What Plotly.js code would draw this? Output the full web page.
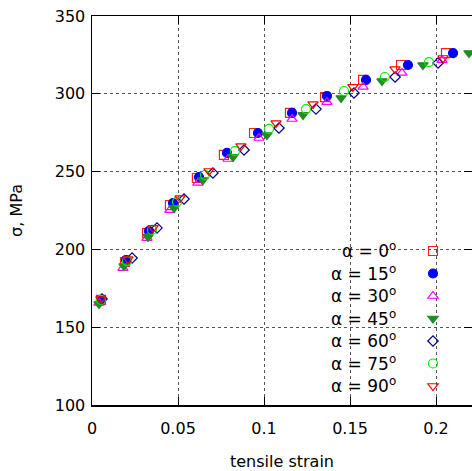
<!DOCTYPE html>
<html>
<head>
<meta charset="utf-8">
<script src="https://cdn.plot.ly/plotly-3.0.1.min.js"></script>
<style>html,body{margin:0;padding:0;background:#fff;}#chart{width:472px;height:471px;}</style>
</head>
<body>
<div id="chart"></div>
<script>
// Series names (angle α)
const seriesLabels = ["α = 0<sup>o</sup>", "α = 15<sup>o</sup>", "α = 30<sup>o</sup>", "α = 45<sup>o</sup>", "α = 60<sup>o</sup>", "α = 75<sup>o</sup>", "α = 90<sup>o</sup>"];

// tensile strain / stress (MPa) per series
const strain0  = [0.0052,0.0192,0.0320,0.0453,0.0610,0.0767,0.0942,0.1151,0.1355,0.1576,0.1797,0.2058];
const stress0  = [167.5,191.9,210.5,228.5,245.9,260.7,274.8,287.7,297.9,308.9,318.5,326.2];
const strain15 = [0.0052,0.0198,0.0331,0.0471,0.0622,0.0785,0.0965,0.1163,0.1366,0.1593,0.1837,0.2099];
const stress15 = [167.5,193.2,211.8,229.8,246.5,262.0,274.8,287.7,298.6,308.9,318.5,326.2];
const strain30 = [0.0041,0.0180,0.0320,0.0453,0.0616,0.0791,0.0971,0.1163,0.1366,0.1576,0.1802,0.2035];
const stress30 = [165.6,188.0,207.3,225.3,242.7,258.1,271.6,283.8,294.7,304.4,313.4,321.7];
const strain45 = [0.0041,0.0186,0.0326,0.0477,0.0645,0.0820,0.1017,0.1227,0.1448,0.1686,0.1924,0.2192];
const stress45 = [164.9,189.3,208.0,226.6,244.6,259.4,273.5,286.4,297.3,308.2,318.5,326.2];
const strain60 = [0.0058,0.0233,0.0378,0.0535,0.0703,0.0884,0.1087,0.1302,0.1523,0.1762,0.2012];
const stress60 = [168.1,194.5,213.8,232.4,249.1,263.9,278.0,290.2,300.5,310.8,319.8];
const strain75 = [0.0052,0.0203,0.0349,0.0494,0.0657,0.0831,0.1029,0.1244,0.1465,0.1703,0.1959];
const stress75 = [167.5,192.5,212.5,230.5,247.8,263.2,277.4,290.2,301.8,310.8,320.4];
const strain90 = [0.0052,0.0209,0.0355,0.0512,0.0680,0.0866,0.1070,0.1285,0.1517,0.1762,0.2041];
const stress90 = [168.1,193.8,213.8,233.0,250.4,266.4,281.2,293.4,304.4,315.9,323.0];

const xTickVals = [0, 0.05, 0.1, 0.15, 0.2];
const xTickText = ["0", "0.05", "0.1", "0.15", "0.2"];
const yTickVals = [100, 150, 200, 250, 300, 350];

const xs = [strain0, strain15, strain30, strain45, strain60, strain75, strain90];
const ys = [stress0, stress15, stress30, stress45, stress60, stress75, stress90];
const styles = [
  {symbol: "square-open", color: "#ff2020", size: 9},
  {symbol: "circle", color: "#0000ff", size: 9},
  {symbol: "triangle-up-open", color: "#ff00ff", size: 9},
  {symbol: "triangle-down", color: "#228b22", size: 9},
  {symbol: "diamond-open", color: "#00008b", size: 8},
  {symbol: "circle-open", color: "#00ee00", size: 9},
  {symbol: "triangle-down-open", color: "#ff0000", size: 9}
];

const traces = xs.map((x, i) => ({
  type: "scatter", mode: "markers", x: x, y: ys[i], name: " ",
  marker: {symbol: styles[i].symbol, color: styles[i].color, size: styles[i].size, line: {width: 1.2, color: styles[i].color}},
  showlegend: true, cliponaxis: false
}));

const rowTop = 250, rowGap = 22.5, plotTop = 16, plotBottom = 405;
const annotations = seriesLabels.map((t, i) => ({
  xref: "paper", yref: "paper", x: (398 - 92) / 380, xanchor: "right",
  y: (plotBottom - (rowTop + i * rowGap)) / (plotBottom - plotTop), yanchor: "middle",
  text: t, showarrow: false, font: {family: "DejaVu Sans", size: 17, color: "#000"}
}));

const axisCommon = {
  showline: true, linecolor: "#000", linewidth: 1.5, mirror: "ticks",
  ticks: "inside", ticklen: 8, tickcolor: "#000", tickwidth: 1,
  showgrid: true, gridcolor: "#555", griddash: "dot", gridwidth: 1,
  zeroline: false, automargin: false, tickfont: {family: "DejaVu Sans", size: 16, color: "#000"}
};

const layout = {
  width: 472, height: 471,
  margin: {l: 92, r: 0, t: 16, b: 66},
  paper_bgcolor: "#fff", plot_bgcolor: "#fff",
  xaxis: Object.assign({}, axisCommon, {
    range: [0, 380 / 1720], tickvals: xTickVals, ticktext: xTickText, ticklabelstandoff: 8,
    title: {text: "tensile strain", font: {family: "DejaVu Sans", size: 16, color: "#000"}, standoff: 22}
  }),
  yaxis: Object.assign({}, axisCommon, {
    range: [100, 350], tickvals: yTickVals, ticklabelstandoff: 2,
    title: {text: "σ, MPa", font: {family: "DejaVu Sans", size: 16, color: "#000"}, standoff: 28}
  }),
  showlegend: true,
  legend: {
    x: (438 - 92) / 380, xanchor: "center",
    y: (plotBottom - rowTop + rowGap / 2 + 4) / (plotBottom - plotTop), yanchor: "top",
    bgcolor: "rgba(0,0,0,0)", borderwidth: 0,
    font: {family: "DejaVu Sans", size: 15}, itemwidth: 30, tracegroupgap: 0
  },
  annotations: annotations
};

Plotly.newPlot("chart", traces, layout, {staticPlot: true, displayModeBar: false});
</script>
</body>
</html>
